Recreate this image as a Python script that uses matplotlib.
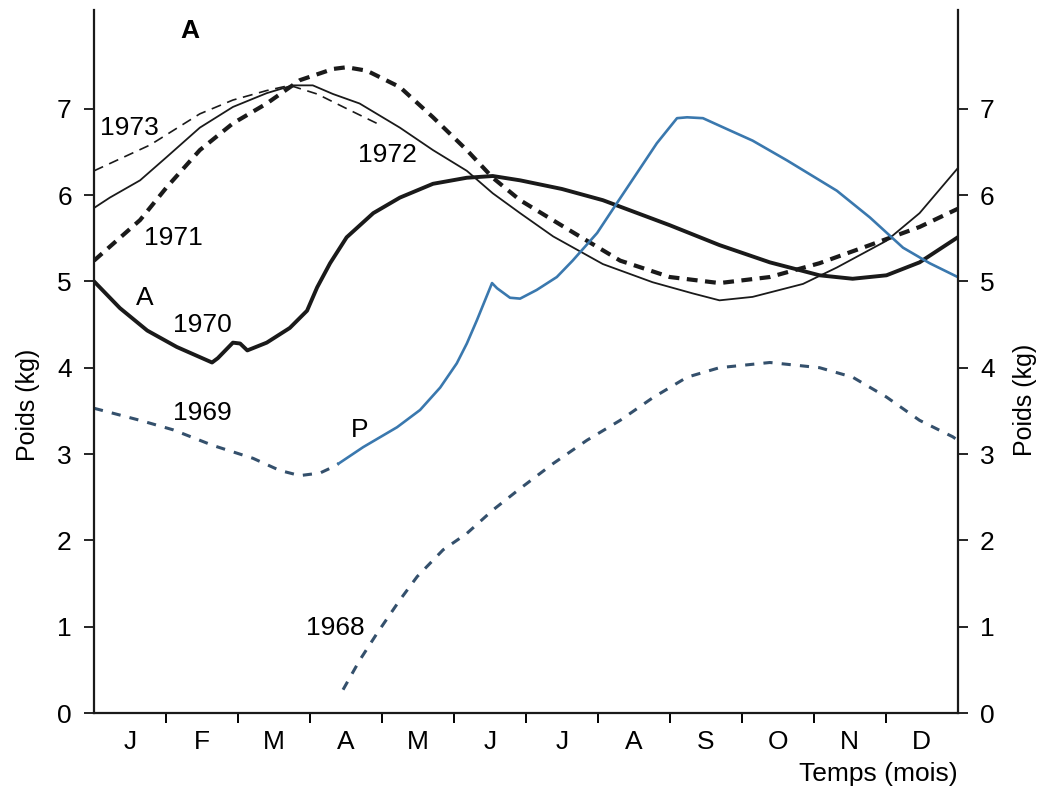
import matplotlib
matplotlib.use('Agg')
import matplotlib.pyplot as plt
from matplotlib.ticker import FixedLocator

plt.rcParams['font.family'] = ['Liberation Sans', 'DejaVu Sans']

# month axis: 0..12 (start of January .. end of December)
months = ["J", "F", "M", "A", "M", "J", "J", "A", "S", "O", "N", "D"]

# 1970 (thick solid, curve "A")
x_1970 = [0.0, 0.36, 0.74, 1.15, 1.64, 1.72, 1.93, 2.03, 2.13, 2.40, 2.72, 2.96, 3.10,
          3.28, 3.51, 3.88, 4.25, 4.71, 5.18, 5.54, 5.92, 6.5, 7.07, 8.0, 8.69, 9.39,
          10.08, 10.54, 11.01, 11.47, 12.0]
y_1970 = [5.0, 4.69, 4.43, 4.24, 4.06, 4.11, 4.29, 4.28, 4.20, 4.29, 4.46, 4.66, 4.93,
          5.21, 5.51, 5.79, 5.97, 6.13, 6.20, 6.22, 6.17, 6.07, 5.94, 5.65, 5.42, 5.22,
          5.07, 5.03, 5.07, 5.22, 5.51]

# 1972 (thin solid)
x_1972 = [0.0, 0.22, 0.64, 1.01, 1.47, 1.93, 2.40, 2.76, 3.04, 3.32, 3.69, 4.25, 4.71,
          5.18, 5.54, 5.92, 6.38, 7.07, 7.76, 8.32, 8.69, 9.15, 9.85, 10.32, 11.01,
          11.47, 12.0]
y_1972 = [5.85, 5.97, 6.17, 6.44, 6.78, 7.02, 7.18, 7.27, 7.27, 7.17, 7.06, 6.78, 6.52,
          6.28, 6.02, 5.79, 5.52, 5.20, 4.99, 4.86, 4.78, 4.82, 4.97, 5.16, 5.47,
          5.79, 6.31]

# 1971 (thick dashed)
x_1971 = [0.0, 0.64, 1.01, 1.47, 1.93, 2.40, 2.86, 3.32, 3.51, 3.79, 4.25, 4.71, 5.18,
          5.54, 5.92, 6.61, 7.31, 8.0, 8.69, 9.39, 10.08, 10.78, 11.47, 12.0]
y_1971 = [5.24, 5.71, 6.09, 6.52, 6.83, 7.06, 7.33, 7.46, 7.48, 7.44, 7.25, 6.90, 6.52,
          6.20, 5.94, 5.59, 5.24, 5.05, 4.98, 5.05, 5.21, 5.42, 5.63, 5.84]

# 1973 (thin dashed, stops in April)
x_1973 = [0.0, 0.78, 1.47, 1.93, 2.40, 2.72, 3.10, 3.56, 3.93]
y_1973 = [6.28, 6.58, 6.94, 7.10, 7.21, 7.27, 7.17, 6.98, 6.83]

# 1969 (blue dashed, Jan -> April)
x_1969 = [0.0, 0.64, 1.10, 1.65, 2.21, 2.58, 2.86, 3.14, 3.32, 3.40]
y_1969 = [3.53, 3.39, 3.28, 3.10, 2.95, 2.81, 2.75, 2.78, 2.85, 2.89]

# P (blue solid, April -> December)
x_p = [3.40, 3.74, 4.21, 4.53, 4.81, 5.04, 5.18, 5.32, 5.53, 5.60, 5.78, 5.92, 6.15,
       6.43, 6.65, 6.99, 7.26, 7.54, 7.82, 8.10, 8.24, 8.46, 8.83, 9.15, 9.63, 10.32,
       10.78, 11.24, 11.61, 12.0]
y_p = [2.89, 3.08, 3.31, 3.51, 3.77, 4.05, 4.28, 4.55, 4.98, 4.92, 4.81, 4.80, 4.90,
       5.05, 5.24, 5.56, 5.90, 6.25, 6.60, 6.89, 6.90, 6.89, 6.75, 6.63, 6.40, 6.05,
       5.74, 5.39, 5.21, 5.05]

# 1968 (blue dashed, April -> December)
x_1968 = [3.46, 3.69, 3.93, 4.25, 4.49, 4.85, 5.18, 5.54, 5.92, 6.38, 6.85, 7.31, 7.76,
          8.24, 8.69, 9.39, 10.08, 10.54, 11.01, 11.47, 11.93, 12.0]
y_1968 = [0.27, 0.61, 0.92, 1.31, 1.58, 1.89, 2.08, 2.35, 2.60, 2.89, 3.16, 3.39, 3.65,
          3.89, 4.00, 4.06, 4.00, 3.89, 3.66, 3.39, 3.20, 3.16]

BLACK = "#1a1a1a"
BLUE = "#3a78ae"
BLUE_DASH = "#34506c"
FS = 19

fig = plt.figure(figsize=(10.41, 7.89), dpi=100)
ax = fig.add_axes([0.0903, 0.0963, 0.8297, 0.8907])

ax.plot(x_1973, y_1973, color=BLACK, lw=1.2, dashes=(6, 4))
ax.plot(x_1972, y_1972, color=BLACK, lw=1.3)
ax.plot(x_1971, y_1971, color=BLACK, lw=3.0, dashes=(2.6, 1.8))
ax.plot(x_1970, y_1970, color=BLACK, lw=2.8, solid_joinstyle='round')
ax.plot(x_1969, y_1969, color=BLUE_DASH, lw=2.2, dashes=(3.0, 3.0))
ax.plot(x_1968, y_1968, color=BLUE_DASH, lw=2.2, dashes=(3.0, 3.0))
ax.plot(x_p, y_p, color=BLUE, lw=1.9)

ax.set_xlim(0, 12)
ax.set_ylim(0, 8.14)

ax.spines["top"].set_visible(False)
for s in ["left", "right", "bottom"]:
    ax.spines[s].set_linewidth(1.6)
    ax.spines[s].set_color(BLACK)

# month boundaries as ticks, month names centered between them
ax.xaxis.set_major_locator(FixedLocator(range(1, 12)))
ax.xaxis.set_minor_locator(FixedLocator([m + 0.5 for m in range(12)]))
ax.set_xticklabels([], minor=False)
ax.set_xticklabels(months, minor=True, fontsize=FS)
ax.tick_params(axis='x', which='major', direction='out', length=7, width=1.4)
ax.tick_params(axis='x', which='minor', length=0, pad=12)

ax.set_yticks(range(0, 8))
ax.tick_params(axis='y', which='major', direction='out', length=7, width=1.2,
               labelsize=FS, left=True, right=True, labelleft=True, labelright=True, pad=9)

ax.set_ylabel("Poids (kg)", fontsize=18)
ax.yaxis.set_label_coords(-0.062, 0.438)
fig.text(0.985, 0.493, "Poids (kg)", rotation=90, fontsize=18, ha='center', va='center')
fig.text(0.92, 0.004, "Temps (mois)", fontsize=FS, ha='right', va='bottom')

# curve labels
ax.text(1.33, 7.9, "A", fontsize=FS, fontweight='bold', ha='center', va='center')
ax.text(0.08, 6.78, "1973", fontsize=FS, ha='left', va='center')
ax.text(4.07, 6.46, "1972", fontsize=FS, ha='center', va='center')
ax.text(1.10, 5.50, "1971", fontsize=FS, ha='center', va='center')
ax.text(0.71, 4.81, "A", fontsize=FS, ha='center', va='center')
ax.text(1.50, 4.49, "1970", fontsize=FS, ha='center', va='center')
ax.text(1.50, 3.47, "1969", fontsize=FS, ha='center', va='center')
ax.text(3.69, 3.28, "P", fontsize=FS, ha='center', va='center')
ax.text(3.35, 0.98, "1968", fontsize=FS, ha='center', va='center')

fig.savefig("out.png", dpi=100, facecolor="white")
